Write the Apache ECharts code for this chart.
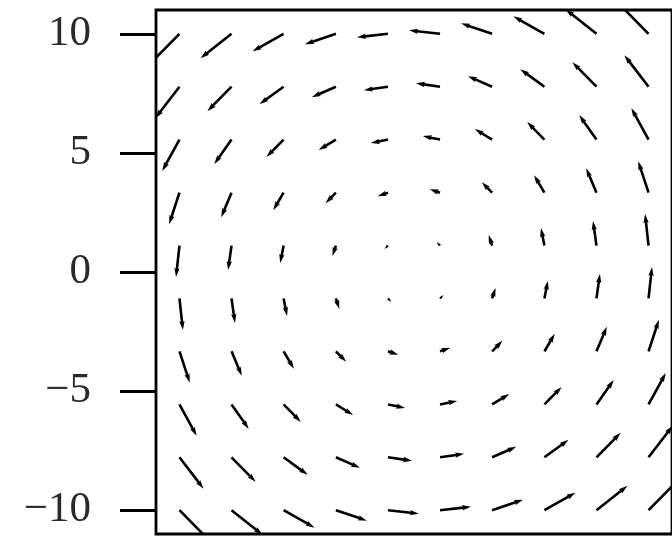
<!DOCTYPE html>
<html>
<head>
<meta charset="utf-8">
<script src="https://cdn.jsdelivr.net/npm/echarts@6/dist/echarts.min.js"></script>
<style>
  html, body { margin: 0; padding: 0; background: #fff; }
  #chart { width: 672px; height: 536px; }
</style>
</head>
<body>
<div id="chart"></div>
<script>
// Sample grid (10 x 10 points) of the rotating vector field
const xs = [-10, -7.78, -5.56, -3.33, -1.11, 1.11, 3.33, 5.56, 7.78, 10];
const ys = [-10, -7.78, -5.56, -3.33, -1.11, 1.11, 3.33, 5.56, 7.78, 10];

// Horizontal components, one row per y value (bottom to top)
const uRows = [
  [10, 10, 10, 10, 10, 10, 10, 10, 10, 10],
  [7.78, 7.78, 7.78, 7.78, 7.78, 7.78, 7.78, 7.78, 7.78, 7.78],
  [5.56, 5.56, 5.56, 5.56, 5.56, 5.56, 5.56, 5.56, 5.56, 5.56],
  [3.33, 3.33, 3.33, 3.33, 3.33, 3.33, 3.33, 3.33, 3.33, 3.33],
  [1.11, 1.11, 1.11, 1.11, 1.11, 1.11, 1.11, 1.11, 1.11, 1.11],
  [-1.11, -1.11, -1.11, -1.11, -1.11, -1.11, -1.11, -1.11, -1.11, -1.11],
  [-3.33, -3.33, -3.33, -3.33, -3.33, -3.33, -3.33, -3.33, -3.33, -3.33],
  [-5.56, -5.56, -5.56, -5.56, -5.56, -5.56, -5.56, -5.56, -5.56, -5.56],
  [-7.78, -7.78, -7.78, -7.78, -7.78, -7.78, -7.78, -7.78, -7.78, -7.78],
  [-10, -10, -10, -10, -10, -10, -10, -10, -10, -10]
];

// Vertical components, one row per y value (bottom to top)
const vRows = [
  [-10, -7.78, -5.56, -3.33, -1.11, 1.11, 3.33, 5.56, 7.78, 10],
  [-10, -7.78, -5.56, -3.33, -1.11, 1.11, 3.33, 5.56, 7.78, 10],
  [-10, -7.78, -5.56, -3.33, -1.11, 1.11, 3.33, 5.56, 7.78, 10],
  [-10, -7.78, -5.56, -3.33, -1.11, 1.11, 3.33, 5.56, 7.78, 10],
  [-10, -7.78, -5.56, -3.33, -1.11, 1.11, 3.33, 5.56, 7.78, 10],
  [-10, -7.78, -5.56, -3.33, -1.11, 1.11, 3.33, 5.56, 7.78, 10],
  [-10, -7.78, -5.56, -3.33, -1.11, 1.11, 3.33, 5.56, 7.78, 10],
  [-10, -7.78, -5.56, -3.33, -1.11, 1.11, 3.33, 5.56, 7.78, 10],
  [-10, -7.78, -5.56, -3.33, -1.11, 1.11, 3.33, 5.56, 7.78, 10],
  [-10, -7.78, -5.56, -3.33, -1.11, 1.11, 3.33, 5.56, 7.78, 10]
];

const yTicks = [-10, -5, 0, 5, 10];

// Arrow length in data units per unit of vector magnitude
const ARROW_SCALE = 0.132;

const points = [];
ys.forEach((y, i) => {
  xs.forEach((x, j) => {
    points.push([x, y, uRows[i][j], vRows[i][j]]);
  });
});

// Quiver-style arrow polygon between two pixel points
function arrowShape(p0, p1) {
  const dx = p1[0] - p0[0], dy = p1[1] - p0[1];
  const L = Math.hypot(dx, dy);
  const hw = 1.3, hh = 2.7, hl = 9, hal = 8;
  if (L < 0.5) return null;
  const ux = dx / L, uy = dy / L;
  const nx = -uy, ny = ux;
  const len = Math.max(L, hl);
  const s = L < hl ? L / hl : 1;
  const local = [
    [0, -hw], [len - hal, -hw], [len - hl, -hh], [len, 0],
    [len - hl, hh], [len - hal, hw], [0, hw]
  ];
  return local.map(([a, b]) => [
    p0[0] + s * (a * ux + b * nx),
    p0[1] + s * (a * uy + b * ny)
  ]);
}

const chart = echarts.init(document.getElementById('chart'), null, { renderer: 'canvas' });

chart.setOption({
  animation: false,
  backgroundColor: '#ffffff',
  grid: {
    left: 156, top: 10, width: 524, height: 524,
    show: true, borderColor: '#000', borderWidth: 2.8,
    backgroundColor: 'transparent'
  },
  xAxis: {
    type: 'value', min: -11, max: 11,
    axisLine: { show: false, onZero: false }, axisTick: { show: false },
    axisLabel: { show: false }, splitLine: { show: false }
  },
  yAxis: {
    type: 'value', min: -11, max: 11,
    axisLine: { show: false, onZero: false },
    axisTick: {
      show: true, inside: false, length: 36,
      customValues: yTicks,
      lineStyle: { color: '#000', width: 2.8 }
    },
    axisLabel: {
      show: true, margin: 65,
      customValues: yTicks,
      fontFamily: '"Liberation Serif", "Times New Roman", serif',
      fontSize: 43, color: '#2a2a2a',
      formatter: v => (v < 0 ? '\u2212' + Math.abs(v) : String(v))
    },
    splitLine: { show: false }
  },
  series: [{
    type: 'custom',
    clip: true,
    data: points,
    renderItem(params, api) {
      const x = api.value(0), y = api.value(1);
      const u = api.value(2), v = api.value(3);
      const p0 = api.coord([x, y]);
      const p1 = api.coord([x + ARROW_SCALE * u, y + ARROW_SCALE * v]);
      const pts = arrowShape(p0, p1);
      if (!pts) return null;
      return {
        type: 'polygon',
        shape: { points: pts },
        style: { fill: '#000', stroke: null }
      };
    }
  }]
});
</script>
</body>
</html>
